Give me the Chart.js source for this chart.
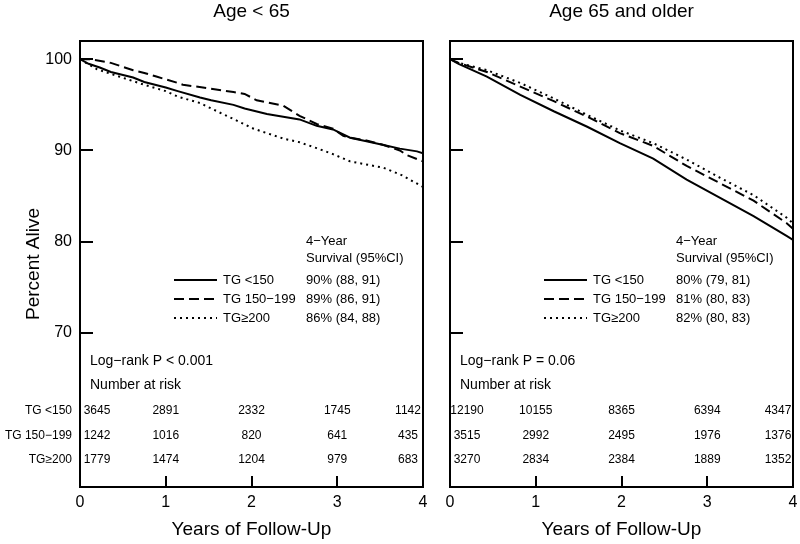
<!DOCTYPE html>
<html lang="en">
<head>
  <meta charset="UTF-8">
  <title>Survival by TG and age</title>
  <script src="https://cdn.jsdelivr.net/npm/chart.js"></script>
  <style>
    body { margin: 0; background: #fff; }
    #wrap { position: relative; width: 800px; height: 544px; }
    canvas { position: absolute; top: 0; }
  </style>
</head>
<body>
  <div id="wrap">
    <canvas id="youngChart" width="430" height="544" style="left:0"></canvas>
    <canvas id="oldChart" width="370" height="544" style="left:430px"></canvas>
  </div>
  <script>
    const groups = ['TG <150', 'TG 150\u2212199', 'TG\u2265200']
    const riskYears = [0, 1, 2, 3, 4]
    const yTicks = [70, 80, 90, 100]

    // Age < 65 (years of follow-up, percent alive)
    const youngLowT = [0, 0.1, 0.23, 0.36, 0.62, 0.75, 1.0, 1.14, 1.4, 1.53, 1.79, 1.92, 2.18, 2.37, 2.56, 2.76, 2.95, 3.15, 3.34, 3.54, 3.73, 3.93, 4.0]
    const youngLowS = [100, 99.5, 99.1, 98.6, 98.0, 97.5, 96.9, 96.5, 95.8, 95.5, 95.0, 94.6, 94.0, 93.7, 93.4, 92.7, 92.3, 91.4, 91.0, 90.6, 90.2, 89.9, 89.7]
    const youngMidT = [0, 0.12, 0.36, 0.62, 0.75, 0.89, 1.14, 1.2, 1.51, 1.79, 1.92, 2.0, 2.06, 2.37, 2.49, 2.56, 2.76, 2.95, 3.07, 3.15, 3.34, 3.54, 3.73, 3.81, 4.0]
    const youngMidS = [100, 100, 99.6, 98.8, 98.5, 98.1, 97.4, 97.2, 96.8, 96.4, 96.2, 95.8, 95.5, 94.9, 94.2, 93.8, 92.9, 92.4, 91.6, 91.4, 91.1, 90.6, 90.0, 89.5, 88.8]
    const youngHighT = [0, 0.2, 0.36, 0.62, 0.75, 1.0, 1.14, 1.4, 1.53, 1.8, 2.02, 2.18, 2.37, 2.56, 2.76, 2.95, 3.15, 3.54, 3.75, 4.0]
    const youngHighS = [100, 98.9, 98.4, 97.6, 97.2, 96.5, 95.9, 95.2, 94.6, 93.4, 92.4, 91.9, 91.3, 90.9, 90.25, 89.6, 88.8, 88.1, 87.3, 86.0]
    const youngSurvival = ['90% (88, 91)', '89% (86, 91)', '86% (84, 88)']
    const youngRisk = [[3645, 2891, 2332, 1745, 1142], [1242, 1016, 820, 641, 435], [1779, 1474, 1204, 979, 683]]
    const youngP = 'Log\u2212rank P < 0.001'

    // Age 65 and older
    const oldT = [0, 0.1, 0.43, 0.82, 1.21, 1.6, 1.98, 2.37, 2.76, 3.15, 3.54, 3.93, 4.0]
    const oldLowS = [100, 99.5, 98.1, 96.1, 94.3, 92.6, 90.8, 89.1, 86.8, 84.8, 82.8, 80.6, 80.2]
    const oldMidS = [100, 99.6, 98.6, 97.0, 95.4, 93.7, 91.9, 90.5, 88.3, 86.4, 84.5, 82.0, 81.4]
    const oldHighS = [100, 99.6, 98.8, 97.4, 95.7, 93.9, 92.2, 90.8, 89.0, 87.0, 85.1, 82.6, 82.0]
    const oldSurvival = ['80% (79, 81)', '81% (80, 83)', '82% (80, 83)']
    const oldRisk = [[12190, 10155, 8365, 6394, 4347], [3515, 2992, 2495, 1976, 1376], [3270, 2834, 2384, 1889, 1352]]
    const oldP = 'Log\u2212rank P = 0.06'

    const family = 'Arial, "Liberation Sans", Helvetica, sans-serif'
    const lineDash = [[], [10, 5], [2, 4]]
    Chart.defaults.font.family = family
    Chart.defaults.color = '#000'

    const toPoints = (t, s) => t.map((x, i) => ({ x, y: s[i] }))

    // frame, panel title, legend block and number-at-risk table
    const kmAnnotations = {
      id: 'kmAnnotations',
      afterDraw(chart, args, opts) {
        const { ctx, chartArea: ca, scales: { x } } = chart
        ctx.save()
        ctx.strokeStyle = '#000'
        ctx.lineWidth = 2
        ctx.strokeRect(ca.left, ca.top, ca.right - ca.left, ca.bottom - ca.top)

        ctx.fillStyle = '#000'
        ctx.textBaseline = 'middle'
        ctx.font = `19px ${family}`
        ctx.textAlign = 'center'
        ctx.fillText(opts.title, (ca.left + ca.right) / 2, 12)

        ctx.font = `13px ${family}`
        ctx.textAlign = 'left'
        const vx = ca.left + 226
        ctx.fillText('4\u2212Year', vx, ca.top + 200)
        ctx.fillText('Survival (95%CI)', vx, ca.top + 217.5)
        chart.data.datasets.forEach((ds, i) => {
          const y = ca.top + 239 + i * 19
          ctx.setLineDash(ds.borderDash)
          ctx.lineWidth = ds.borderWidth
          ctx.beginPath()
          ctx.moveTo(ca.left + 94, y)
          ctx.lineTo(ca.left + 137, y)
          ctx.stroke()
          ctx.setLineDash([])
          ctx.fillText(ds.label, ca.left + 143, y)
          ctx.fillText(opts.survival[i], vx, y)
        })

        ctx.font = `14px ${family}`
        ctx.fillText(opts.pText, ca.left + 10, ca.bottom - 126)
        ctx.fillText('Number at risk', ca.left + 10, ca.bottom - 102)

        ctx.font = `12px ${family}`
        opts.risk.forEach((row, r) => {
          const y = ca.bottom - 76 + r * 24.5
          ctx.textAlign = 'center'
          row.forEach((n, i) => {
            const nudge = i === 0 ? 17 : (i === row.length - 1 ? -15 : 0)
            ctx.fillText(n, x.getPixelForValue(riskYears[i]) + nudge, y)
          })
          if (opts.rowLabels) {
            ctx.textAlign = 'right'
            ctx.fillText(groups[r], ca.left - 8, y)
          }
        })
        ctx.restore()
      }
    }

    const buildChart = (id, o) => new Chart(document.getElementById(id), {
      type: 'line',
      data: {
        datasets: o.curves.map((c, i) => ({
          label: groups[i],
          data: c,
          borderColor: '#000',
          borderWidth: 2,
          borderDash: lineDash[i],
          pointRadius: 0,
          fill: false,
          tension: 0
        }))
      },
      options: {
        responsive: false,
        animation: false,
        layout: { padding: { top: 41, right: 7, left: 0, bottom: 0 } },
        scales: {
          x: {
            type: 'linear',
            min: 0,
            max: 4,
            ticks: { stepSize: 1, padding: 17, font: { size: 16 }, color: '#000' },
            grid: { drawOnChartArea: false, tickLength: -11, color: '#000', lineWidth: 2 },
            border: { color: '#000', width: 2 },
            title: { display: true, text: 'Years of Follow-Up', font: { size: 19 }, color: '#000', padding: { top: 0, bottom: 3 } },
            afterFit: s => { s.height = 57; s.paddingLeft = 0; s.paddingRight = 0 }
          },
          y: {
            min: 53.1,
            max: 102,
            afterBuildTicks: s => { s.ticks = yTicks.map(v => ({ value: v })) },
            ticks: { padding: 21, font: { size: 16 }, color: '#000', callback: o.showY ? (v => v) : (() => '') },
            grid: { drawOnChartArea: false, tickLength: -13, color: '#000', lineWidth: 2 },
            border: { color: '#000', width: 2 },
            title: { display: o.showY, text: 'Percent Alive', font: { size: 19 }, color: '#000', padding: { top: 22, bottom: 0 } },
            afterFit: s => { s.width = o.yWidth; s.paddingTop = 0; s.paddingBottom = 0 }
          }
        },
        plugins: {
          legend: { display: false },
          tooltip: { enabled: false },
          kmAnnotations: { title: o.title, survival: o.survival, pText: o.pText, risk: o.risk, rowLabels: o.showY }
        }
      },
      plugins: [kmAnnotations]
    })

    buildChart('youngChart', {
      title: 'Age < 65',
      curves: [toPoints(youngLowT, youngLowS), toPoints(youngMidT, youngMidS), toPoints(youngHighT, youngHighS)],
      survival: youngSurvival,
      risk: youngRisk,
      pText: youngP,
      showY: true,
      yWidth: 80
    })

    buildChart('oldChart', {
      title: 'Age 65 and older',
      curves: [toPoints(oldT, oldLowS), toPoints(oldT, oldMidS), toPoints(oldT, oldHighS)],
      survival: oldSurvival,
      risk: oldRisk,
      pText: oldP,
      showY: false,
      yWidth: 20
    })
  </script>
</body>
</html>
